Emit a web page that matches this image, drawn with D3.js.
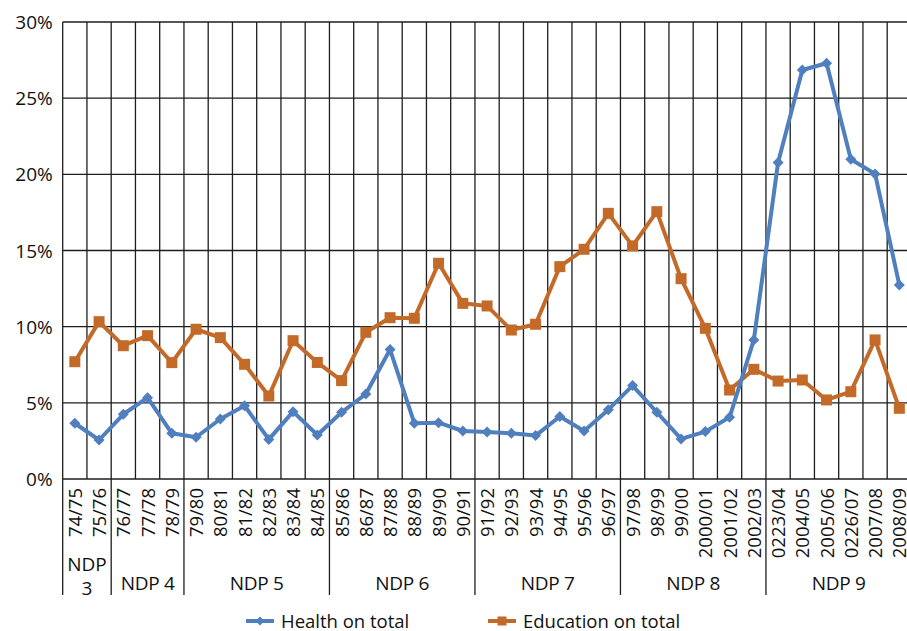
<!DOCTYPE html>
<html>
<head>
<meta charset="utf-8">
<script src="https://cdn.jsdelivr.net/npm/d3@7"></script>
<style>
  html, body { margin: 0; padding: 0; background: #fff; }
  svg { display: block; font-family: "Open Sans", "DejaVu Sans", sans-serif; }
</style>
</head>
<body>
<svg id="chart" width="907" height="631"></svg>
<script>
// Fiscal years along the bottom
const categories = ["74/75","75/76","76/77","77/78","78/79","79/80","80/81","81/82","82/83","83/84",
  "84/85","85/86","86/87","87/88","88/89","89/90","90/91","91/92","92/93","93/94",
  "94/95","95/96","96/97","97/98","98/99","99/00","2000/01","2001/02","2002/03","0223/04",
  "2004/05","2005/06","0226/07","2007/08","2008/09"];

// Share of total spending, percent
const health = [3.66,2.56,4.25,5.34,3.0,2.74,3.94,4.81,2.6,4.42,
  2.89,4.38,5.58,8.5,3.66,3.7,3.15,3.09,3.0,2.85,
  4.1,3.15,4.55,6.13,4.38,2.63,3.11,4.05,9.13,20.77,
  26.85,27.29,20.99,20.03,12.74];
const education = [7.70,10.33,8.75,9.41,7.64,9.83,9.28,7.53,5.45,9.08,
  7.65,6.46,9.63,10.59,10.55,14.16,11.53,11.36,9.78,10.16,
  13.94,15.08,17.44,15.3,17.55,13.15,9.89,5.84,7.2,6.43,
  6.5,5.19,5.73,9.13,4.64];

// National Development Plan periods and how many years each covers
const planNames = ["NDP 3","NDP 4","NDP 5","NDP 6","NDP 7","NDP 8","NDP 9"];
const planYears = [2,3,6,6,6,6,6];

const yTicks = [0,5,10,15,20,25,30];
const seriesNames = ["Health on total","Education on total"];

const svg = d3.select("#chart");
const plotLeft = 62.7, plotTop = 22, plotBottom = 479;
const colW = 24.25;
const plotRight = plotLeft + categories.length * colW;
const healthColor = "#4F7FBE", eduColor = "#C46A29", gridColor = "#1e1e1e";

const x = d3.scaleBand().domain(categories).range([plotLeft, plotRight]).paddingInner(0).paddingOuter(0);
const y = d3.scaleLinear().domain([0, 30]).range([plotBottom, plotTop]);

// Horizontal gridlines
svg.append("g").selectAll("line").data(yTicks).join("line")
  .attr("x1", plotLeft).attr("x2", plotRight)
  .attr("y1", d => y(d)).attr("y2", d => y(d))
  .attr("stroke", gridColor).attr("stroke-width", 1.3);

// Vertical lines at each year boundary
const bounds = categories.map(c => x(c)).concat([plotRight]);
svg.append("g").selectAll("line").data(bounds).join("line")
  .attr("x1", d => d).attr("x2", d => d)
  .attr("y1", plotTop).attr("y2", plotBottom)
  .attr("stroke", gridColor).attr("stroke-width", 1.3);

// Y axis labels
const yAxis = d3.axisLeft(y).tickValues(yTicks).tickSize(0).tickPadding(10).tickFormat(d => d + "%");
const ya = svg.append("g").attr("transform", `translate(${plotLeft},0)`).call(yAxis);
ya.select(".domain").remove();
ya.selectAll("text").attr("font-size", 19).attr("fill", "#111")
  .attr("font-family", "'Open Sans', sans-serif").attr("dy", "0.35em");

// Rotated year labels
svg.append("g").selectAll("text").data(categories).join("text")
  .attr("transform", d => `translate(${x(d) + x.bandwidth() / 2 - 0.5},488) rotate(-90)`)
  .attr("text-anchor", "end").attr("dominant-baseline", "central")
  .attr("font-size", 18.5).attr("fill", "#111").text(d => d);

// Plan period separators and labels
let idx = 0;
const plans = planNames.map((name, i) => {
  const start = idx; idx += planYears[i];
  const end = start + planYears[i];
  return { name, x0: x(categories[start]), x1: end < categories.length ? x(categories[end]) : plotRight };
});
const planBounds = [plotLeft].concat(plans.map(p => p.x1));
svg.append("g").selectAll("line").data(planBounds).join("line")
  .attr("x1", d => d).attr("x2", d => d)
  .attr("y1", plotBottom).attr("y2", 595)
  .attr("stroke", gridColor).attr("stroke-width", 1.3);

const planLabels = svg.append("g").attr("font-size", 19).attr("fill", "#111").attr("text-anchor", "middle");
plans.forEach((p, i) => {
  const cx = (p.x0 + p.x1) / 2;
  if (i === 0) {
    const parts = p.name.split(" ");
    planLabels.append("text").attr("x", cx).attr("y", 564).attr("dominant-baseline", "central").text(parts[0]);
    planLabels.append("text").attr("x", cx).attr("y", 588).attr("dominant-baseline", "central").text(parts[1]);
  } else {
    planLabels.append("text").attr("x", cx).attr("y", 583).attr("dominant-baseline", "central")
      .attr("letter-spacing", "-0.3").text(p.name);
  }
});

// Series lines and markers
const line = d3.line().x((d, i) => x(categories[i]) + x.bandwidth() / 2).y(d => y(d));
function diamond(g, cx, cy, r, color) {
  g.append("path").attr("d", `M${cx},${cy - r}L${cx + r},${cy}L${cx},${cy + r}L${cx - r},${cy}Z`).attr("fill", color);
}
function square(g, cx, cy, h, color) {
  g.append("rect").attr("x", cx - h).attr("y", cy - h).attr("width", 2 * h).attr("height", 2 * h).attr("fill", color);
}

svg.append("path").datum(education).attr("d", line).attr("fill", "none")
  .attr("stroke", eduColor).attr("stroke-width", 4).attr("stroke-linejoin", "round");
const eduMarks = svg.append("g");
education.forEach((v, i) => square(eduMarks, x(categories[i]) + x.bandwidth() / 2, y(v), 5.5, eduColor));

svg.append("path").datum(health).attr("d", line).attr("fill", "none")
  .attr("stroke", healthColor).attr("stroke-width", 4).attr("stroke-linejoin", "round");
const healthMarks = svg.append("g");
health.forEach((v, i) => diamond(healthMarks, x(categories[i]) + x.bandwidth() / 2, y(v), 5.5, healthColor));

// Legend
const legend = svg.append("g");
const legendY = 620;
const legendItems = [
  { name: seriesNames[0], color: healthColor, x0: 246, shape: "diamond" },
  { name: seriesNames[1], color: eduColor, x0: 488, shape: "square" }
];
legendItems.forEach(it => {
  legend.append("line").attr("x1", it.x0).attr("x2", it.x0 + 28).attr("y1", legendY + 1).attr("y2", legendY + 1)
    .attr("stroke", it.color).attr("stroke-width", 4);
  if (it.shape === "diamond") diamond(legend, it.x0 + 14, legendY + 1, 4.5, it.color);
  else square(legend, it.x0 + 14, legendY + 1, 4.5, it.color);
  legend.append("text").attr("x", it.x0 + 35).attr("y", legendY).attr("dominant-baseline", "central")
    .attr("font-size", 18.5).attr("fill", "#111").text(it.name);
});
</script>
</body>
</html>
